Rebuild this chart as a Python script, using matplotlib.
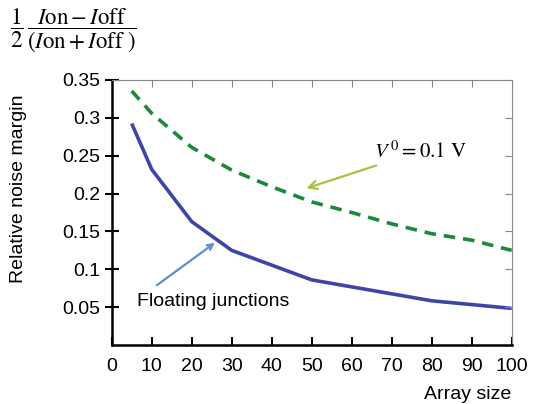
import matplotlib.pyplot as plt

plt.rcParams['font.family'] = ['Liberation Sans', 'DejaVu Sans']
plt.rcParams['mathtext.fontset'] = 'stix'

# array sizes and noise margins
size_float = [5, 10, 20, 30, 50, 80, 100]
margin_float = [0.2925, 0.232, 0.163, 0.125, 0.086, 0.0584, 0.0484]

size_v0 = [5, 10, 20, 30, 40, 50, 60, 70, 80, 90, 100]
margin_v0 = [0.3355, 0.306, 0.261, 0.231, 0.209, 0.189, 0.175, 0.160, 0.147, 0.1385, 0.125]

x_ticks = [0, 10, 20, 30, 40, 50, 60, 70, 80, 90, 100]
y_ticks = [0.05, 0.1, 0.15, 0.2, 0.25, 0.3, 0.35]
y_tick_labels = ['0.05', '0.1', '0.15', '0.2', '0.25', '0.3', '0.35']

fig = plt.figure(figsize=(5.35, 4.04), dpi=100)
ax = fig.add_axes([0.2088, 0.146, 0.7476, 0.656])

ax.plot(size_float, margin_float, color='#3d46a6', lw=2.6, solid_capstyle='butt')
ax.plot(size_v0, margin_v0, color='#1a8a3a', lw=2.6, ls=(0, (3.2, 2.2)))

ax.set_xlim(0, 100)
ax.set_ylim(0, 0.35)
ax.set_xticks(x_ticks)
ax.set_yticks(y_ticks)
ax.set_yticklabels(y_tick_labels)
ax.tick_params(labelsize=14)
ax.tick_params(axis='y', direction='inout', length=10, width=1.5, pad=3)
ax.tick_params(axis='x', direction='in', length=6, width=1.5, pad=9)

for side in ('left', 'bottom'):
    ax.spines[side].set_linewidth(1.8)
for side in ('top', 'right'):
    ax.spines[side].set_color('#888888')
    ax.spines[side].set_linewidth(0.8)

ax2 = ax.twinx()
ax2.set_ylim(ax.get_ylim())
ax2.set_yticks(y_ticks)
ax2.tick_params(axis='y', direction='in', length=5, color='#888888', labelright=False)
ax3 = ax.twiny()
ax3.set_xlim(ax.get_xlim())
ax3.set_xticks(x_ticks[1:-1])
ax3.tick_params(axis='x', direction='in', length=5, color='#888888', labeltop=False)
for a in (ax2, ax3):
    for s in a.spines.values():
        s.set_visible(False)

ax.set_ylabel('Relative noise margin', fontsize=14)
ax.yaxis.set_label_coords(-0.212, 0.59)
ax.set_xlabel('Array size', fontsize=14, loc='right', labelpad=8)

ax.annotate(r'$V^{\,0} = 0.1\ \mathrm{V}$', xy=(48.7, 0.207), xytext=(65.5, 0.256),
            fontsize=15, va='center', ha='left',
            arrowprops=dict(arrowstyle='->', color='#a9c23f', lw=1.6,
                            shrinkA=2, shrinkB=0))
ax.annotate('', xy=(25.8, 0.135), xytext=(11.3, 0.079),
            arrowprops=dict(arrowstyle='->', color='#5b8fd0', lw=1.6,
                            shrinkA=0, shrinkB=0))
ax.text(6.2, 0.058, 'Floating junctions', fontsize=14, va='center', ha='left')

fig.text(0.018, 0.925,
         r'$\dfrac{1}{2}\,\dfrac{I\mathrm{on}-I\mathrm{off}}{\left(I\mathrm{on}+I\mathrm{off}\ \right)}$',
         fontsize=16.5, va='center', ha='left')

fig.savefig('out.png', dpi=100)
